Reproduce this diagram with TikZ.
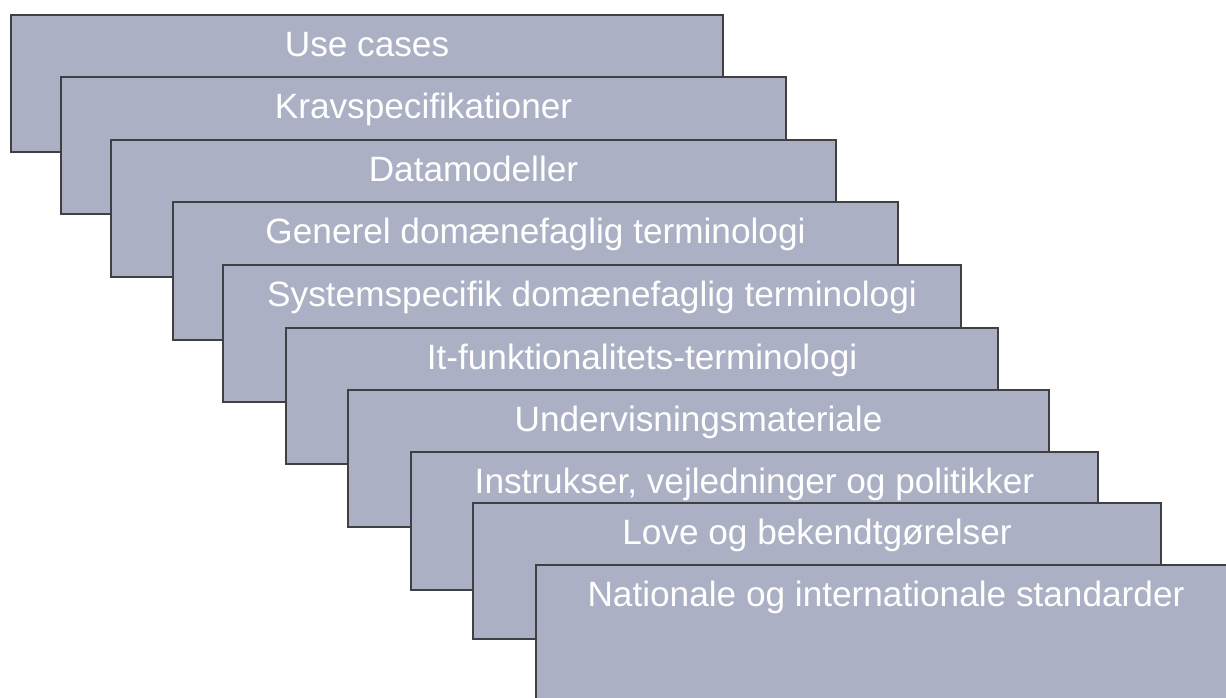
\documentclass[tikz,border=0pt]{standalone}
\usepackage{fontspec}
\setmainfont{Liberation Sans}
\definecolor{boxfill}{RGB}{171,176,196}
\definecolor{boxline}{RGB}{64,64,66}
\begin{document}
\begin{tikzpicture}[x=0.75pt,y=-0.75pt,
  layer/.style={fill=boxfill,draw=boxline,line width=1.1pt},
  lab/.style={anchor=base,text=white,inner sep=0pt,font=\fontsize{26.4}{30}\selectfont}]
\useasboundingbox (0,0) rectangle (1226,697);
\clip (0,0) rectangle (1226,697);
\draw[layer] (11,15) rectangle (723,152);
\node[lab] (t1) at (367,56.5) {Use cases};
\draw[layer] (61,77) rectangle (786,214);
\node[lab] (t2) at (423.5,118.5) {Kravspecifikationer};
\draw[layer] (111,140) rectangle (836,277);
\node[lab] (t3) at (473.5,181.5) {Datamodeller};
\draw[layer] (173,202) rectangle (898,340);
\node[lab] (t4) at (535.5,243.5) {Generel domænefaglig terminologi};
\draw[layer] (223,265) rectangle (961,402);
\node[lab] (t5) at (592,306.5) {Systemspecifik domænefaglig terminologi};
\draw[layer] (286,328) rectangle (998,464);
\node[lab] (t6) at (642,369.5) {It-funktionalitets-terminologi};
\draw[layer] (348,390) rectangle (1049,527);
\node[lab] (t7) at (698.5,431.5) {Undervisningsmateriale};
\draw[layer] (411,452) rectangle (1098,590);
\node[lab] (t8) at (754.5,493.5) {Instrukser, vejledninger og politikker};
\draw[layer] (473,503) rectangle (1161,639);
\node[lab] (t9) at (817,544.5) {Love og bekendtgørelser};
\draw[layer] (536,565) rectangle (1236,702);
\node[lab] (t10) at (886,606.5) {Nationale og internationale standarder};
\end{tikzpicture}
\end{document}
